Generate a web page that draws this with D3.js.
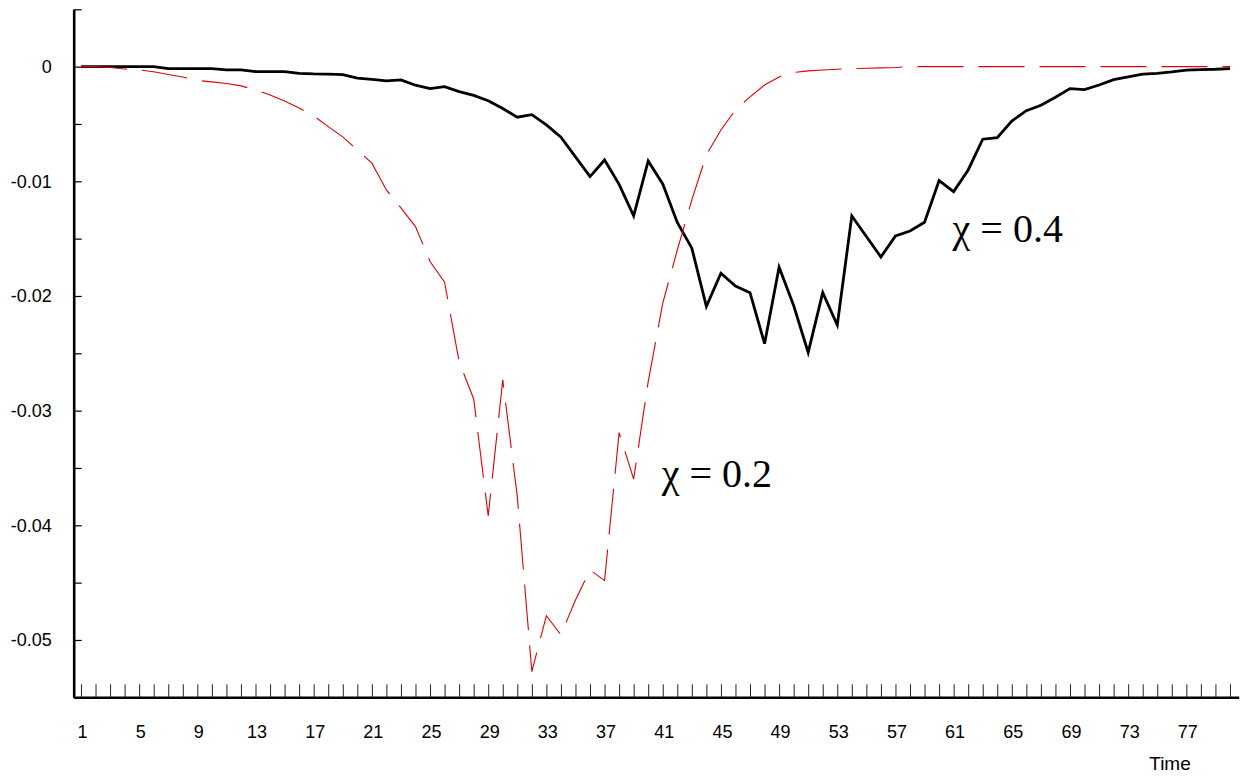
<!DOCTYPE html>
<html>
<head>
<meta charset="utf-8">
<script src="https://cdn.jsdelivr.net/npm/d3@7"></script>
<style>
  body { margin: 0; background: #fff; }
  .tick-label { font-family: "Liberation Sans", Arial, sans-serif; font-size: 18px; fill: #000; }
  .note { font-family: "Liberation Serif", "Times New Roman", serif; font-size: 40px; fill: #000; }
</style>
</head>
<body>
<div id="chart"></div>
<script>
// time index 1..80
var times = d3.range(1, 81);

// chi = 0.4 (solid black)
var chi04 = [
  0, 0, 0, 0, 0, 0, -0.00017, -0.00017, -0.00017, -0.00017,
  -0.00029, -0.00029, -0.00044, -0.00044, -0.00044, -0.00058, -0.00064, -0.00066, -0.0007, -0.00101,
  -0.00112, -0.00125, -0.00116, -0.00162, -0.00192, -0.00174, -0.00218, -0.00251, -0.00297, -0.00365,
  -0.00441, -0.00419, -0.00508, -0.00616, -0.00787, -0.00959, -0.00814, -0.01027, -0.01302, -0.00822,
  -0.01023, -0.01359, -0.01583, -0.02091, -0.01802, -0.01913, -0.01971, -0.02416, -0.01749, -0.02083,
  -0.02492, -0.01971, -0.02253, -0.01302, -0.01481, -0.0166, -0.01476, -0.01433, -0.01357, -0.00994,
  -0.0109, -0.00901, -0.00633, -0.00619, -0.00474, -0.00384, -0.00337, -0.00267, -0.00192, -0.00201,
  -0.0016, -0.00113, -0.0009, -0.00066, -0.00058, -0.00046, -0.00031, -0.00026, -0.00023, -0.00017
];

// chi = 0.2 (dashed red)
var chi02 = [
  0, 0, -0.00007, -0.0002, -0.00029, -0.00044, -0.00068, -0.0009, -0.0012, -0.00133,
  -0.00147, -0.00168, -0.00203, -0.00247, -0.00299, -0.0036, -0.0043, -0.00523, -0.00613, -0.00726,
  -0.00842, -0.01075, -0.01232, -0.01395, -0.017, -0.0188, -0.02573, -0.02898, -0.03918, -0.02732,
  -0.0375, -0.05276, -0.04788, -0.04956, -0.04651, -0.04389, -0.04482, -0.03192, -0.03598, -0.02747,
  -0.02063, -0.01599, -0.01162, -0.0077, -0.00552, -0.00378, -0.00264, -0.0016, -0.0009, -0.00051,
  -0.00037, -0.00029, -0.00023, -0.00017, -0.00014, -0.00011, -0.00007, 0, 0, 0,
  0, 0, 0, 0, 0, 0, 0, 0, 0, 0,
  0, 0, 0, 0, 0, 0, 0, 0, 0, 0
];

// axis ticks
var yTicks = d3.range(0, 13).map(function(i){ return +(0.005 - i * 0.005).toFixed(3); });
var yLabelValues = [0, -0.01, -0.02, -0.03, -0.04, -0.05];
var yLabels = ["0", "-0.01", "-0.02", "-0.03", "-0.04", "-0.05"];
var xLabelValues = [1, 5, 9, 13, 17, 21, 25, 29, 33, 37, 41, 45, 49, 53, 57, 61, 65, 69, 73, 77];

var notes = [
  {text: "\u03c7 = 0.4", t: 60.93, v: -0.01529},
  {text: "\u03c7 = 0.2", t: 40.93, v: -0.03665}
];

var width = 1240, height = 776;

var svg = d3.select("#chart").append("svg")
    .attr("width", width)
    .attr("height", height);

var x = d3.scaleLinear().domain([0.5, 80.6]).range([73.7, 1238.7]);
var y = d3.scaleLinear().domain([-0.055, 0.005]).range([697.3, 9.3]);

// x axis: tick at every period, pointing up
var xAxis = d3.axisBottom(x)
    .tickValues(times)
    .tickSizeInner(-13)
    .tickSizeOuter(0)
    .tickFormat("");

var gx = svg.append("g")
    .attr("transform", "translate(0," + y.range()[0] + ")")
    .call(xAxis);
gx.select(".domain").attr("stroke", "#000").attr("stroke-width", 2.6);
gx.selectAll(".tick line").attr("stroke", "#222").attr("stroke-width", 1);

gx.selectAll(".xlab")
    .data(xLabelValues)
    .enter().append("text")
    .attr("class", "tick-label")
    .attr("x", function(d){ return x(d) + 1.5; })
    .attr("y", 27.5)
    .attr("dy", "0.71em")
    .attr("text-anchor", "middle")
    .text(function(d){ return d; });

svg.append("text")
    .attr("class", "tick-label")
    .style("font-size", "19px")
    .attr("x", 1170)
    .attr("y", 770)
    .attr("text-anchor", "middle")
    .text("Time");

// y axis: ticks inward, labels only on the majors
var yAxis = d3.axisLeft(y)
    .tickValues(yTicks)
    .tickSizeInner(-8)
    .tickSizeOuter(0)
    .tickFormat("");

var gy = svg.append("g")
    .attr("transform", "translate(" + x.range()[0] + ",0)")
    .call(yAxis);
gy.select(".domain").attr("stroke", "#000").attr("stroke-width", 2.6);
gy.selectAll(".tick line").attr("stroke", "#000").attr("stroke-width", 1.2);

gy.selectAll(".ylab")
    .data(yLabelValues)
    .enter().append("text")
    .attr("class", "tick-label")
    .attr("x", -22)
    .attr("y", function(d){ return y(d); })
    .attr("dy", "0.35em")
    .attr("text-anchor", "end")
    .text(function(d, i){ return yLabels[i]; });

// lines
var line = d3.line()
    .x(function(d){ return x(d.t); })
    .y(function(d){ return y(d.v); });

function pairs(vals){
  return vals.map(function(v, i){ return {t: times[i], v: v}; });
}

svg.append("path")
    .datum(pairs(chi04))
    .attr("fill", "none")
    .attr("stroke", "#000")
    .attr("stroke-width", 2.8)
    .attr("stroke-linejoin", "miter")
    .attr("d", line);

svg.append("path")
    .datum(pairs(chi02))
    .attr("fill", "none")
    .attr("stroke", "#e00000")
    .attr("stroke-width", 1.1)
    .attr("stroke-dasharray", "46,15")
    .attr("d", line);

svg.selectAll(".note")
    .data(notes)
    .enter().append("text")
    .attr("class", "note")
    .attr("x", function(d){ return x(d.t); })
    .attr("y", function(d){ return y(d.v); })
    .text(function(d){ return d.text; });
</script>
</body>
</html>
